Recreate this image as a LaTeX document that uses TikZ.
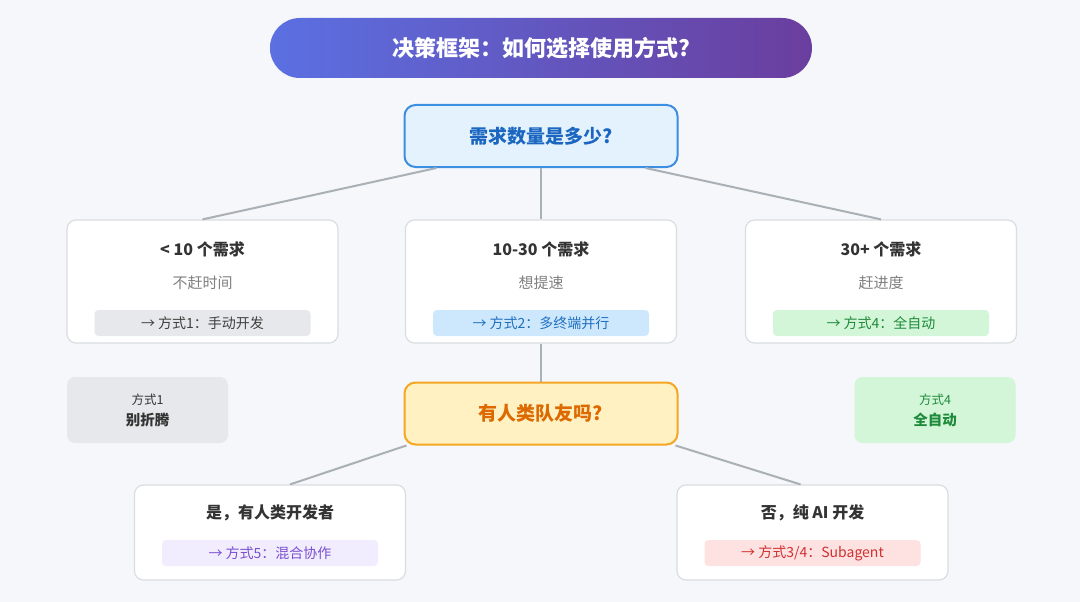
\documentclass[tikz,border=0pt]{standalone}
\usepackage{fontspec}
\setmainfont{Noto Sans CJK SC}
\usetikzlibrary{positioning}
\definecolor{bgc}{HTML}{F5F7FA}
\definecolor{linec}{HTML}{A9B0B6}
\definecolor{boxline}{HTML}{DADDE1}
\definecolor{qblue}{HTML}{E3F2FD}
\definecolor{qblueline}{HTML}{3B8EE0}
\definecolor{qbluetext}{HTML}{1A66C0}
\definecolor{qyel}{HTML}{FFF1C2}
\definecolor{qyelline}{HTML}{F5A623}
\definecolor{qyeltext}{HTML}{DD6A00}
\definecolor{tgray}{HTML}{E6E8EB}
\definecolor{tblue}{HTML}{CDE8FD}
\definecolor{tgreen}{HTML}{D3F5D8}
\definecolor{tpurple}{HTML}{F1EDFE}
\definecolor{tred}{HTML}{FEE2E2}
\definecolor{ttblue}{HTML}{1F6FC0}
\definecolor{ttgreen}{HTML}{1E8A3A}
\definecolor{ttpurple}{HTML}{7A4FD0}
\definecolor{ttred}{HTML}{D03030}
\definecolor{gstart}{HTML}{5B70E2}
\definecolor{gend}{HTML}{6A3E9E}
\begin{document}
\begin{tikzpicture}[
    x=1pt, y=-1pt,
    % styles
    card/.style={draw=boxline, line width=1.2pt, fill=white, rounded corners=9pt,
        minimum width=271pt, minimum height=123pt},
    bcard/.style={card, minimum height=95pt},
    question/.style={rounded corners=11pt, line width=2pt, minimum width=273pt,
        minimum height=62pt, font=\fontsize{19}{21}\selectfont\bfseries},
    head/.style={font=\fontsize{16}{18}\selectfont\bfseries, text=black!80},
    sub/.style={font=\fontsize{15}{17}\selectfont, text=black!50},
    tag/.style={rounded corners=4pt, minimum width=216pt, minimum height=26pt,
        font=\fontsize{14}{16}\selectfont},
    side/.style={rounded corners=8pt, minimum width=161pt, minimum height=66pt,
        align=center, font=\fontsize{12.5}{21}\selectfont, text=black!80},
    link/.style={draw=linec, line width=2pt}
]
    % background
    \fill[bgc] (0,0) rectangle (1080,602);
    \useasboundingbox (0,0) rectangle (1080,602);

    % title
    \shade[left color=gstart, right color=gend, rounded corners=30pt]
        (270,18) rectangle (812,78);
    \node[text=white, font=\fontsize{22}{24}\selectfont\bfseries] (title) at (541,48)
        {决策框架：如何选择使用方式?};

    % first question
    \node[question, draw=qblueline, fill=qblue, text=qbluetext] (q1) at (541,136)
        {需求数量是多少?};

    % level 1 cards
    \node[card] (few) at (202.5,281.5) {};
    \node[card] (mid) at (541,281.5) {};
    \node[card] (many) at (881,281.5) {};
    \node[head] at (202.5,249) {< 10 个需求};
    \node[head] at (541,249) {10-30 个需求};
    \node[head] at (881,249) {30+ 个需求};
    \node[sub] at (202.5,283) {不赶时间};
    \node[sub] at (541,283) {想提速};
    \node[sub] at (881,283) {赶进度};
    \node[tag, fill=tgray, text=black!75] (tfew) at (202.5,323) {→ 方式1：手动开发};
    \node[tag, fill=tblue, text=ttblue] (tmid) at (541,323) {→ 方式2：多终端并行};
    \node[tag, fill=tgreen, text=ttgreen] (tmany) at (881,323) {→ 方式4：全自动};

    % side notes
    \node[side, fill=tgray] (s1) at (147.5,410) {方式1\\\textbf{\fontsize{14.5}{21}\selectfont 别折腾}};
    \node[side, fill=tgreen, text=ttgreen] (s4) at (935,410) {方式4\\\textbf{\fontsize{14.5}{21}\selectfont 全自动}};

    % second question
    \node[question, draw=qyelline, fill=qyel, text=qyeltext] (q2) at (541,413.5)
        {有人类队友吗?};

    % level 2 cards
    \node[bcard] (human) at (270,532.5) {};
    \node[bcard] (ai) at (812.5,532.5) {};
    \node[head] at (270,513) {是，有人类开发者};
    \node[head] at (812.5,513) {否，纯 AI 开发};
    \node[tag, fill=tpurple, text=ttpurple] (thuman) at (270,553) {→ 方式5：混合协作};
    \node[tag, fill=tred, text=ttred] (tai) at (812.5,553) {→ 方式3/4：Subagent};

    % connectors
    \coordinate (q1l) at ([xshift=33pt]q1.south west);
    \coordinate (q1r) at ([xshift=-33pt]q1.south east);
    \coordinate (q2l) at ([xshift=3pt]q2.south west);
    \coordinate (q2r) at ([xshift=-3pt]q2.south east);
    \path[link] (q1l) -- (few.north);
    \path[link] (q1) -- (mid);
    \path[link] (q1r) -- (many.north);
    \path[link] (mid) -- (q2);
    \path[link] (q2l) -- ([xshift=20pt]human.north);
    \path[link] (q2r) -- ([xshift=-12pt]ai.north);
\end{tikzpicture}
\end{document}
